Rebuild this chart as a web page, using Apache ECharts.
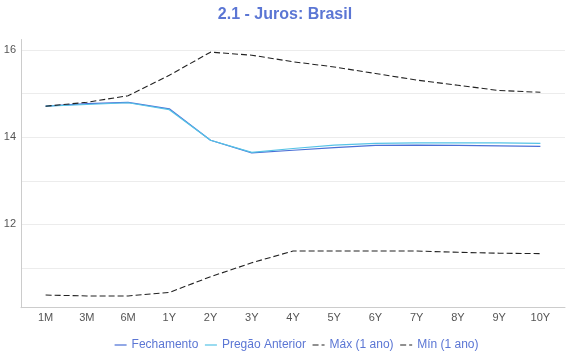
<!DOCTYPE html>
<html><head><meta charset="utf-8">
<script src="https://cdn.jsdelivr.net/npm/echarts@6/dist/echarts.min.js"></script>
<style>html,body{margin:0;padding:0;background:#fff}#c{width:570px;height:360px}</style>
</head><body><div id="c"></div>
<script>
const categories = ['1M','3M','6M','1Y','2Y','3Y','4Y','5Y','6Y','7Y','8Y','9Y','10Y'];
const fechamento = [14.71,14.77,14.80,14.65,13.93,13.64,13.70,13.76,13.81,13.82,13.81,13.80,13.79];
const pregaoAnterior = [14.71,14.75,14.79,14.63,13.93,13.65,13.74,13.82,13.86,13.87,13.87,13.87,13.86];
const maxAno = [14.71,14.80,14.95,15.42,15.95,15.88,15.73,15.61,15.46,15.31,15.19,15.07,15.03];
const minAno = [10.38,10.36,10.36,10.44,10.80,11.12,11.39,11.39,11.39,11.39,11.36,11.34,11.33];
const yTickLabels = [12,14,16];

const yMin = 10.09, yMax = 16.24;
const font = 'Liberation Sans, Arial, Helvetica, sans-serif';
const chart = echarts.init(document.getElementById('c'));
chart.setOption({
  animation:false,
  title:{text:'2.1 - Juros: Brasil', left:'center', top:2,
    textStyle:{color:'#5b76d4', fontSize:16, fontWeight:'bold', fontFamily:font}},
  legend:{bottom:4, left:109, itemWidth:12, itemHeight:10, itemGap:6,
    itemStyle:{opacity:0}, lineStyle:{width:1.2},
    textStyle:{color:'#5b76d4', fontSize:12, fontFamily:font},
    data:['Fechamento','Pregão Anterior','Máx (1 ano)','Mín (1 ano)']},
  grid:[
    {left:21, right:5, top:39.5, bottom:52.3},
    {left:25, right:9, top:39.5, bottom:52.3}
  ],
  xAxis:[
    {gridIndex:0, type:'category', data:categories, boundaryGap:true,
      axisLine:{lineStyle:{color:'#cccccc'}}, axisTick:{show:false}, axisLabel:{show:false}, splitLine:{show:false}},
    {gridIndex:1, type:'category', data:categories, boundaryGap:true,
      axisLine:{show:false}, axisTick:{show:false},
      axisLabel:{color:'#555', fontSize:11, fontFamily:font, margin:5}}
  ],
  yAxis:[
    {gridIndex:0, type:'value', min:yMin, max:yMax,
      axisLine:{show:true, lineStyle:{color:'#cccccc'}}, axisTick:{show:false},
      axisLabel:{color:'#555', fontSize:11, fontFamily:font, margin:5, showMinLabel:false, showMaxLabel:false,
        formatter:v => yTickLabels.includes(Math.round(v*1000)/1000) ? String(v) : ''},
      splitLine:{show:true, showMinLine:false, showMaxLine:false, lineStyle:{color:'#ececec'}}},
    {gridIndex:1, type:'value', min:yMin, max:yMax, show:false, splitLine:{show:false}}
  ],
  series:[
    {name:'Fechamento', type:'line', xAxisIndex:1, yAxisIndex:1, data:fechamento, symbol:'none',
      lineStyle:{color:'#4a6fd6', width:1.2}, itemStyle:{color:'#4a6fd6'}},
    {name:'Pregão Anterior', type:'line', xAxisIndex:1, yAxisIndex:1, data:pregaoAnterior, symbol:'none',
      lineStyle:{color:'#55c3e6', width:1.2}, itemStyle:{color:'#55c3e6'}},
    {name:'Máx (1 ano)', type:'line', xAxisIndex:1, yAxisIndex:1, data:maxAno, symbol:'none',
      lineStyle:{color:'#222', width:1.1, type:[6,3]}, itemStyle:{color:'#222'}},
    {name:'Mín (1 ano)', type:'line', xAxisIndex:1, yAxisIndex:1, data:minAno, symbol:'none',
      lineStyle:{color:'#222', width:1.1, type:[6,3]}, itemStyle:{color:'#222'}}
  ]
});
</script></body></html>
